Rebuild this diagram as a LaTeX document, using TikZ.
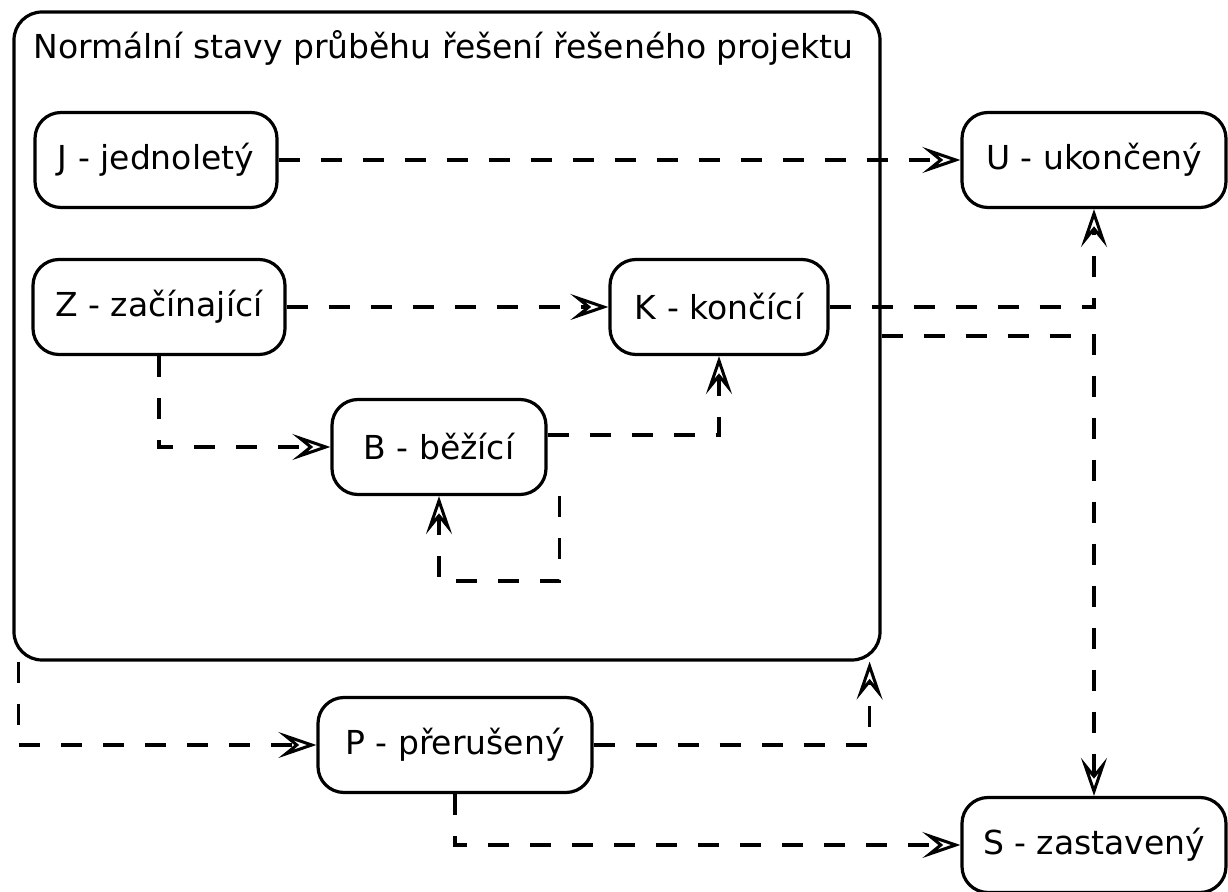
\documentclass[tikz,border=0pt]{standalone}
\usepackage{fontspec}
\setmainfont{DejaVu Sans}
\usetikzlibrary{arrows.meta}
\usetikzlibrary{positioning}

\begin{document}
\begin{tikzpicture}
    [
    x=0.5pt, y=-0.5pt,
    font=\fontsize{16.5}{20}\selectfont,
    state/.style={draw,line width=1.6pt,rounded corners=13pt,minimum height=47.5pt,inner sep=0pt},
    group/.style={draw,line width=1.6pt,rounded corners=14pt,inner sep=0pt},
    flow/.style={line width=1.8pt,dash pattern=on 10.5pt off 10.5pt,-{Stealth[open,length=19pt,width=13pt,inset=8pt,line width=1.5pt]}}
    ]
    \useasboundingbox (0,0) rectangle (1228,892);
    \node (normal) at (447,336) [group,minimum width=433pt,minimum height=324pt] {};
    \node (title) at (33,48) [anchor=west,inner sep=0pt] {Normální stavy průběhu řešení řešeného projektu};
    \node (J) at (156,160) [state,minimum width=121pt] {J - jednoletý};
    \node (Z) at (159,307) [state,minimum width=126pt] {Z - začínající};
    \node (K) at (719,307) [state,minimum width=109pt] {K - končící};
    \node (B) at (439,447) [state,minimum width=107pt] {B - běžící};
    \node (U) at (1094,160) [state,minimum width=132pt] {U - ukončený};
    \node (P) at (455,745) [state,minimum width=137pt] {P - přerušený};
    \node (S) at (1094,845) [state,minimum width=132pt] {S - zastavený};
    \draw [flow] (J) to (U);
    \draw [flow] (Z) to (K);
    \draw [flow] (Z.south) |- (B.west);
    \draw [flow] ([yshift=6pt]B.east) -| (K.south);
    \draw [flow] ([xshift=6pt]B.south east) -- ++(0,85) -| (B.south);
    \draw [flow] (K.east) -| (U.south);
    \draw [flow] (normal.east) -| (S.north);
    \draw [flow] ([xshift=3pt]normal.south west) |- (P.west);
    \draw [flow] (P.east) -| ([xshift=-6pt]normal.south east);
    \draw [flow] (P.south) |- (S.west);
\end{tikzpicture}
\end{document}
